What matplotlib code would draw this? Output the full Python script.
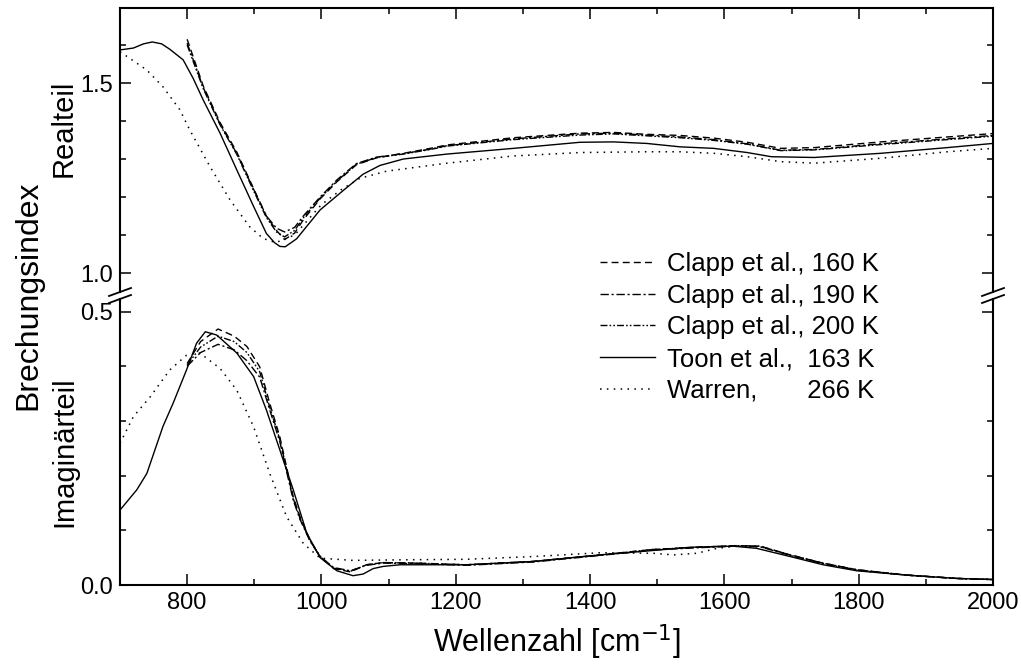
import numpy as np
import matplotlib
matplotlib.use("Agg")
import matplotlib.pyplot as plt
from matplotlib.ticker import MultipleLocator
from matplotlib.lines import Line2D

plt.rcParams['font.family'] = ['Liberation Sans', 'DejaVu Sans']

# ---- data ----
# Realteil (upper panel)
toon_x_re = [700, 720, 735, 748, 762, 774, 794, 809, 824, 849, 874, 899, 918, 930, 938, 946,
             963, 998, 1033, 1062, 1087, 1122, 1162, 1187, 1286, 1385, 1435, 1484, 1534, 1584,
             1634, 1670, 1734, 1833, 1932, 2000]
toon_re = [1.587, 1.592, 1.603, 1.608, 1.603, 1.589, 1.561, 1.512, 1.455, 1.368, 1.271, 1.175,
           1.104, 1.080, 1.070, 1.069, 1.090, 1.166, 1.218, 1.260, 1.283, 1.300, 1.308, 1.313,
           1.328, 1.344, 1.345, 1.341, 1.332, 1.328, 1.317, 1.306, 1.304, 1.315, 1.330, 1.341]

warren_x_re = [700, 712, 740, 764, 789, 804, 834, 864, 893, 913, 932, 960, 1000, 1030, 1057,
               1097, 1187, 1286, 1385, 1484, 1534, 1584, 1634, 1684, 1734, 1833, 1932, 2000]
warren_re = [1.582, 1.568, 1.534, 1.490, 1.430, 1.376, 1.280, 1.192, 1.122, 1.091, 1.080,
             1.100, 1.180, 1.220, 1.249, 1.268, 1.289, 1.308, 1.317, 1.319, 1.319, 1.315,
             1.306, 1.293, 1.289, 1.302, 1.319, 1.328]

clapp_x_re = [800, 824, 849, 874, 899, 918, 933, 945, 960, 973, 998, 1023, 1052, 1082, 1122,
              1162, 1187, 1286, 1385, 1435, 1484, 1534, 1584, 1634, 1684, 1734, 1833, 1932, 2000]
clapp160_re = [1.615, 1.492, 1.396, 1.318, 1.222, 1.150, 1.112, 1.088, 1.105, 1.140, 1.195,
               1.240, 1.285, 1.303, 1.315, 1.328, 1.337, 1.356, 1.368, 1.370, 1.365, 1.362,
               1.355, 1.344, 1.328, 1.330, 1.345, 1.358, 1.367]
clapp190_re = [1.605, 1.488, 1.392, 1.314, 1.220, 1.150, 1.118, 1.108, 1.120, 1.150, 1.200,
               1.245, 1.288, 1.305, 1.314, 1.326, 1.335, 1.353, 1.366, 1.368, 1.363, 1.358,
               1.351, 1.340, 1.323, 1.325, 1.340, 1.353, 1.362]
clapp200_re = [1.600, 1.485, 1.390, 1.312, 1.216, 1.146, 1.108, 1.095, 1.112, 1.145, 1.197,
               1.242, 1.286, 1.304, 1.313, 1.325, 1.334, 1.351, 1.363, 1.366, 1.361, 1.356,
               1.349, 1.339, 1.322, 1.324, 1.338, 1.351, 1.360]

# Imaginaerteil (lower panel)
toon_x_im = [700, 725, 740, 764, 779, 799, 814, 827, 844, 874, 899, 918, 938, 958, 978, 998,
             1023, 1047, 1062, 1077, 1092, 1117, 1216, 1315, 1415, 1474, 1549, 1613, 1648,
             1698, 1747, 1797, 1872, 1946, 2000]
toon_im = [0.137, 0.174, 0.204, 0.290, 0.332, 0.393, 0.442, 0.463, 0.457, 0.424, 0.381, 0.320,
           0.247, 0.174, 0.095, 0.050, 0.026, 0.017, 0.020, 0.030, 0.034, 0.037, 0.037, 0.043,
           0.055, 0.061, 0.069, 0.071, 0.067, 0.052, 0.037, 0.026, 0.018, 0.012, 0.010]

warren_x_im = [700, 720, 745, 774, 799, 819, 849, 874, 899, 923, 948, 973, 998, 1047, 1117,
               1216, 1315, 1415, 1494, 1524, 1559, 1589, 1618, 1653, 1698, 1747, 1797, 1872,
               1946, 2000]
warren_im = [0.259, 0.308, 0.344, 0.393, 0.420, 0.424, 0.396, 0.356, 0.289, 0.204, 0.125,
             0.076, 0.049, 0.045, 0.046, 0.047, 0.052, 0.059, 0.058, 0.055, 0.058, 0.067,
             0.071, 0.070, 0.055, 0.039, 0.027, 0.018, 0.012, 0.010]

clapp_x_im = [800, 820, 846, 870, 889, 908, 923, 938, 948, 958, 968, 983, 998, 1018, 1043,
              1067, 1092, 1142, 1216, 1315, 1415, 1494, 1559, 1618, 1653, 1698, 1747, 1797,
              1872, 1946, 2000]
clapp160_im = [0.405, 0.445, 0.468, 0.455, 0.436, 0.399, 0.332, 0.271, 0.216, 0.161, 0.125,
               0.082, 0.052, 0.030, 0.024, 0.037, 0.041, 0.040, 0.037, 0.043, 0.055, 0.065,
               0.069, 0.072, 0.071, 0.055, 0.040, 0.028, 0.018, 0.012, 0.010]
clapp190_im = [0.400, 0.425, 0.440, 0.430, 0.410, 0.380, 0.320, 0.262, 0.208, 0.155, 0.120,
               0.080, 0.052, 0.032, 0.026, 0.036, 0.040, 0.039, 0.036, 0.042, 0.054, 0.064,
               0.068, 0.071, 0.070, 0.054, 0.039, 0.027, 0.018, 0.012, 0.010]
clapp200_im = [0.402, 0.435, 0.455, 0.445, 0.425, 0.390, 0.325, 0.266, 0.212, 0.158, 0.122,
               0.081, 0.052, 0.031, 0.025, 0.037, 0.041, 0.040, 0.037, 0.043, 0.055, 0.065,
               0.069, 0.072, 0.071, 0.055, 0.040, 0.028, 0.018, 0.012, 0.010]

labels = ['Clapp et al., 160 K', 'Clapp et al., 190 K', 'Clapp et al., 200 K',
          'Toon et al.,  163 K', 'Warren,       266 K']

# line styles
st160 = dict(color='black', lw=1.0, linestyle=(0, (5, 3)))
st190 = dict(color='black', lw=1.0, linestyle=(0, (6, 2, 1.5, 2)))
st200 = dict(color='black', lw=1.0, linestyle=(0, (5, 1.5, 1.2, 1.5, 1.2, 1.5)))
sttoon = dict(color='black', lw=1.0, linestyle='-')
stwar = dict(color='black', lw=1.1, linestyle=(0, (1, 3.5)))

W, H = 1021, 666
fig = plt.figure(figsize=(W / 100, H / 100), dpi=100)
left, right = 120 / W, 993 / W
ax_re = fig.add_axes([left, 1 - 292 / H, right - left, (292 - 8) / H])
ax_im = fig.add_axes([left, 1 - 585 / H, right - left, (585 - 299) / H])

ax_re.plot(clapp_x_re, clapp160_re, **st160)
ax_re.plot(clapp_x_re, clapp190_re, **st190)
ax_re.plot(clapp_x_re, clapp200_re, **st200)
ax_re.plot(toon_x_re, toon_re, **sttoon)
ax_re.plot(warren_x_re, warren_re, **stwar)

ax_im.plot(clapp_x_im, clapp160_im, **st160)
ax_im.plot(clapp_x_im, clapp190_im, **st190)
ax_im.plot(clapp_x_im, clapp200_im, **st200)
ax_im.plot(toon_x_im, toon_im, **sttoon)
ax_im.plot(warren_x_im, warren_im, **stwar)

ax_re.set_ylim(1.0 - 19 / 380, 1.0 + 265 / 380)
ax_im.set_ylim(0.0, 286 / 547)
for ax in (ax_re, ax_im):
    ax.set_xlim(700, 2000)
    ax.xaxis.set_major_locator(MultipleLocator(200))
    ax.xaxis.set_minor_locator(MultipleLocator(100))
    ax.yaxis.set_minor_locator(MultipleLocator(0.1))
    ax.tick_params(which='both', direction='in', left=True, right=True, width=1.1,
                   labelsize=17, pad=5)
    ax.tick_params(which='major', length=8)
    ax.tick_params(which='minor', length=4)
    for s in ax.spines.values():
        s.set_linewidth(1.5)

ax_re.yaxis.set_major_locator(MultipleLocator(0.5))
ax_re.yaxis.set_major_formatter(lambda v, p: f'{v:.1f}')
ax_re.spines['bottom'].set_visible(False)
ax_re.tick_params(which='both', bottom=False, top=True, labelbottom=False)

ax_im.yaxis.set_major_locator(MultipleLocator(0.5))
ax_im.yaxis.set_major_formatter(lambda v, p: f'{v:.1f}')
ax_im.spines['top'].set_visible(False)
ax_im.tick_params(which='both', top=False, bottom=True)
ax_im.set_xlabel('Wellenzahl [cm$^{-1}$]', fontsize=22, labelpad=6)

# axis break marks
for xp in (120, 993):
    for yp in (292, 299):
        fig.add_artist(Line2D([(xp - 11) / W, (xp + 11) / W],
                              [1 - (yp + 4) / H, 1 - (yp - 4) / H],
                              transform=fig.transFigure, color='black', lw=1.3))

fig.text(28 / W, 1 - 295 / H, 'Brechungsindex', rotation=90, ha='center', va='center',
         fontsize=23)
fig.text(64 / W, 1 - 128 / H, 'Realteil', rotation=90, ha='center', va='center', fontsize=21)
fig.text(64 / W, 1 - 452 / H, 'Imaginärteil', rotation=90, ha='center', va='center',
         fontsize=21)

handles = [Line2D([], [], **st160), Line2D([], [], **st190), Line2D([], [], **st200),
           Line2D([], [], **sttoon), Line2D([], [], **stwar)]
fig.legend(handles, labels, loc='upper left', bbox_to_anchor=(600 / W, 1 - 252 / H),
           frameon=False, fontsize=18.5, handlelength=2.15, handletextpad=0.45,
           labelspacing=0.3, borderpad=0, borderaxespad=0)

fig.savefig('out.png', dpi=100)
